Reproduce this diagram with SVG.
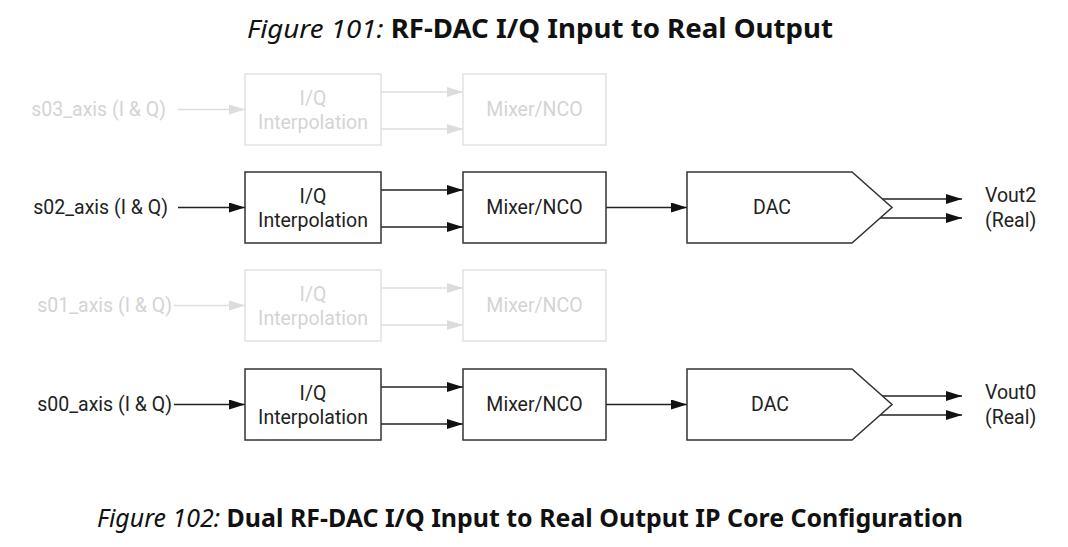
<svg xmlns="http://www.w3.org/2000/svg" width="1068" height="547" viewBox="0 0 1068 547">
<style>
.cap{font-family:"Noto Sans","Open Sans",sans-serif;fill:#111}
.it{font-style:italic;font-weight:400}
.bd{font-weight:700}
.lbl{font-family:Roboto,"Liberation Sans",sans-serif;font-size:19.5px;fill:#222}
.lbl.f{fill:#d4d4d4}
.box{fill:#fff;stroke:#333;stroke-width:1.5}
.box.f{stroke:#e2e2e2}
.ln{stroke:#222;stroke-width:1.4;fill:none;marker-end:url(#ah)}
.ln.f{stroke:#dedede;marker-end:url(#ahf)}
</style>
<defs>
<marker id="ah" markerUnits="userSpaceOnUse" markerWidth="17" markerHeight="11" refX="16" refY="5" orient="auto"><path d="M0,0 L16,5 L0,10 z" fill="#111"/></marker>
<marker id="ahf" markerUnits="userSpaceOnUse" markerWidth="17" markerHeight="11" refX="16" refY="5" orient="auto"><path d="M0,0 L16,5 L0,10 z" fill="#dcdcdc"/></marker>
</defs>
<rect width="1068" height="547" fill="#fff"/>
<text class="cap" x="247" y="38" font-size="26" textLength="586" lengthAdjust="spacingAndGlyphs"><tspan class="it">Figure 101: </tspan><tspan class="bd">RF-DAC I/Q Input to Real Output</tspan></text>
<text class="cap" x="97" y="527" font-size="24.5" textLength="866" lengthAdjust="spacingAndGlyphs"><tspan class="it">Figure 102: </tspan><tspan class="bd">Dual RF-DAC I/Q Input to Real Output IP Core Configuration</tspan></text>

<g id="connectors">
<line class="ln f" x1="178" y1="109.5" x2="245" y2="109.5"/>
<line class="ln f" x1="381" y1="92" x2="463" y2="92"/>
<line class="ln f" x1="381" y1="129" x2="463" y2="129"/>
<line class="ln" x1="178" y1="207.5" x2="245" y2="207.5"/>
<line class="ln" x1="381" y1="190" x2="463" y2="190"/>
<line class="ln" x1="381" y1="227" x2="463" y2="227"/>
<line class="ln" x1="606" y1="207.5" x2="687" y2="207.5"/>
<line class="ln" x1="882" y1="199" x2="962" y2="199"/>
<line class="ln" x1="880" y1="218" x2="962" y2="218"/>
<line class="ln f" x1="174" y1="305.5" x2="245" y2="305.5"/>
<line class="ln f" x1="381" y1="288" x2="463" y2="288"/>
<line class="ln f" x1="381" y1="325" x2="463" y2="325"/>
<line class="ln" x1="174" y1="404.5" x2="245" y2="404.5"/>
<line class="ln" x1="381" y1="387" x2="463" y2="387"/>
<line class="ln" x1="381" y1="424" x2="463" y2="424"/>
<line class="ln" x1="606" y1="404.5" x2="687" y2="404.5"/>
<line class="ln" x1="882" y1="396" x2="962" y2="396"/>
<line class="ln" x1="880" y1="415" x2="962" y2="415"/>
</g>

<g id="in3"><text class="lbl f" x="166" y="116" text-anchor="end">s03_axis (I &amp; Q)</text></g>
<g id="interp3"><rect class="box f" x="245" y="74" width="136" height="71"/><text class="lbl f" x="313" y="105" text-anchor="middle">I/Q</text><text class="lbl f" x="313" y="129" text-anchor="middle">Interpolation</text></g>
<g id="mixer3"><rect class="box f" x="463" y="74" width="143" height="71"/><text class="lbl f" x="534.5" y="116" text-anchor="middle">Mixer/NCO</text></g>

<g id="in2"><text class="lbl" x="168" y="214" text-anchor="end">s02_axis (I &amp; Q)</text></g>
<g id="interp2"><rect class="box" x="245" y="172" width="136" height="71"/><text class="lbl" x="313" y="203" text-anchor="middle">I/Q</text><text class="lbl" x="313" y="227" text-anchor="middle">Interpolation</text></g>
<g id="mixer2"><rect class="box" x="463" y="172" width="143" height="71"/><text class="lbl" x="534.5" y="214" text-anchor="middle">Mixer/NCO</text></g>
<g id="dac2"><path class="box" d="M687,172 H852 L892,207.5 L852,243 H687 Z"/><text class="lbl" x="772" y="214" text-anchor="middle">DAC</text></g>
<g id="out2"><text class="lbl" x="985" y="202">Vout2</text><text class="lbl" x="985" y="227">(Real)</text></g>

<g id="in1"><text class="lbl f" x="172" y="312" text-anchor="end">s01_axis (I &amp; Q)</text></g>
<g id="interp1"><rect class="box f" x="245" y="270" width="136" height="71"/><text class="lbl f" x="313" y="301" text-anchor="middle">I/Q</text><text class="lbl f" x="313" y="325" text-anchor="middle">Interpolation</text></g>
<g id="mixer1"><rect class="box f" x="463" y="270" width="143" height="71"/><text class="lbl f" x="534.5" y="312" text-anchor="middle">Mixer/NCO</text></g>

<g id="in0"><text class="lbl" x="172" y="411" text-anchor="end">s00_axis (I &amp; Q)</text></g>
<g id="interp0"><rect class="box" x="245" y="369" width="136" height="71"/><text class="lbl" x="313" y="400" text-anchor="middle">I/Q</text><text class="lbl" x="313" y="424" text-anchor="middle">Interpolation</text></g>
<g id="mixer0"><rect class="box" x="463" y="369" width="143" height="71"/><text class="lbl" x="534.5" y="411" text-anchor="middle">Mixer/NCO</text></g>
<g id="dac0"><path class="box" d="M687,369 H852 L892,404.5 L852,440 H687 Z"/><text class="lbl" x="770" y="411" text-anchor="middle">DAC</text></g>
<g id="out0"><text class="lbl" x="985" y="399">Vout0</text><text class="lbl" x="985" y="424">(Real)</text></g>
</svg>
